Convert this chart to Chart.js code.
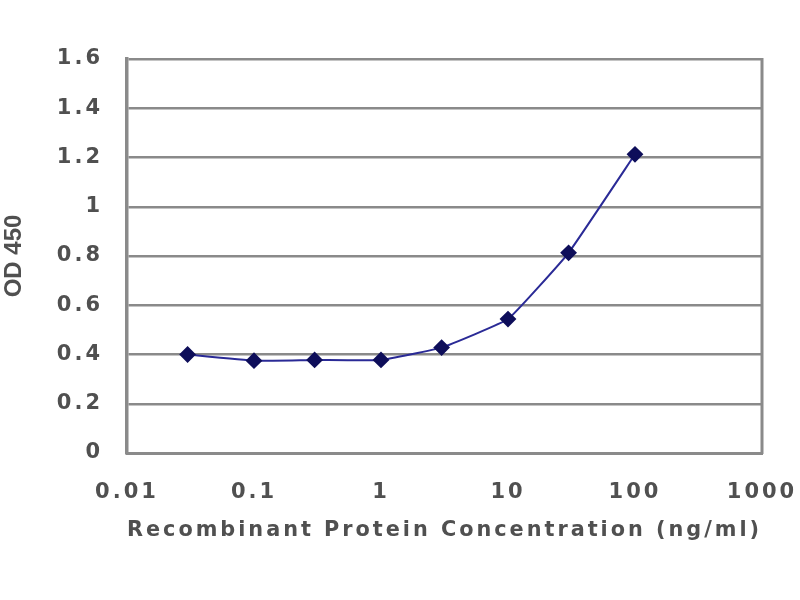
<!DOCTYPE html>
<html>
<head>
<meta charset="utf-8">
<script src="https://cdn.jsdelivr.net/npm/chart.js@4/dist/chart.umd.min.js"></script>
<style>
html,body{margin:0;padding:0;background:#fff;}
#wrap{width:800px;height:600px;}
</style>
</head>
<body>
<div id="wrap"><canvas id="c" width="800" height="600"></canvas></div>
<script>
const concentrations = [0.03, 0.1, 0.3, 1, 3, 10, 30, 100];
const od450 = [0.40, 0.375, 0.378, 0.378, 0.428, 0.544, 0.813, 1.213];
const xTickValues = [0.01, 0.1, 1, 10, 100, 1000];
const xTickLabels = ['0.01', '0.1', '1', '10', '100', '1000'];
const yTickLabels = ['0', '0.2', '0.4', '0.6', '0.8', '1', '1.2', '1.4', '1.6'];
const xTitle = 'Recombinant Protein Concentration (ng/ml)';
const yTitle = 'OD 450';

const gridColor = '#8a8a8a';
const textColor = '#505050';
const wideSpacing = '3px';

const framePlugin = {
  id: 'frame',
  beforeDraw(chart){
    const ctx = chart.ctx;
    ctx.save();
    ctx.fillStyle = '#fff';
    ctx.fillRect(0, 0, chart.width, chart.height);
    ctx.restore();
    ctx.letterSpacing = '0px';
  },
  beforeDatasetsDraw(chart){
    const {ctx, chartArea} = chart;
    ctx.save();
    ctx.strokeStyle = gridColor;
    ctx.lineWidth = 3;
    ctx.beginPath();
    ctx.moveTo(chartArea.right, chartArea.top - 1);
    ctx.lineTo(chartArea.right, chartArea.bottom + 1);
    ctx.stroke();
    ctx.restore();
  },
  afterDatasetsDraw(chart){
    chart.ctx.letterSpacing = wideSpacing;
  }
};

new Chart(document.getElementById('c'), {
  type: 'line',
  data: {
    datasets: [{
      data: concentrations.map((x, i) => ({x: x, y: od450[i]})),
      borderColor: '#2a2a96',
      borderWidth: 2,
      backgroundColor: '#0e0e5a',
      pointBackgroundColor: '#0e0e5a',
      pointBorderColor: '#0e0e5a',
      pointStyle: 'rectRot',
      pointRadius: 7,
      tension: 0.1,
      fill: false
    }]
  },
  options: {
    responsive: false,
    animation: false,
    devicePixelRatio: 1,
    layout: { padding: { left: 0, right: 38, top: 59, bottom: 40 } },
    plugins: { legend: { display: false }, tooltip: { enabled: false } },
    scales: {
      x: {
        type: 'logarithmic',
        min: 0.01, max: 1000,
        afterBuildTicks(scale){ scale.ticks = xTickValues.map(v => ({value: v})); },
        afterFit(scale){
          scale.height = 600 - 453 - 40;
          scale.paddingLeft = 0;
          scale.paddingRight = 0;
        },
        ticks: {
          z: 1,
          autoSkip: false, maxRotation: 0,
          color: textColor,
          font: { family: 'DejaVu Sans', size: 21, weight: 'bold' },
          padding: 27,
          callback(v){ const i = xTickValues.indexOf(v); return i >= 0 ? xTickLabels[i] : ''; }
        },
        grid: { display: false, drawTicks: false, z: 1 },
        border: { display: true, color: gridColor, width: 3, z: 1 },
        title: {
          display: true, text: xTitle, color: textColor,
          font: { family: 'DejaVu Sans', size: 21, weight: 'bold' },
          padding: { top: 0, bottom: 17 }
        }
      },
      y: {
        min: 0, max: 1.6,
        afterBuildTicks(scale){ scale.ticks = yTickLabels.map(s => ({value: parseFloat(s)})); },
        afterFit(scale){ scale.width = 127; },
        ticks: {
          z: 1,
          color: textColor,
          font: { family: 'DejaVu Sans', size: 21, weight: 'bold' },
          padding: 24,
          callback(v){ const s = yTickLabels.find(t => Math.abs(parseFloat(t) - v) < 1e-9); return s !== undefined ? s : ''; }
        },
        grid: { color: gridColor, lineWidth: 2.5, drawTicks: false },
        border: { display: true, color: gridColor, width: 3.5 },
        title: {
          display: true, text: yTitle, color: textColor,
          font: { family: 'Liberation Sans', size: 24, weight: 'bold' },
          padding: { top: 0, bottom: 0 }
        }
      }
    }
  },
  plugins: [framePlugin]
});
</script>
</body>
</html>
